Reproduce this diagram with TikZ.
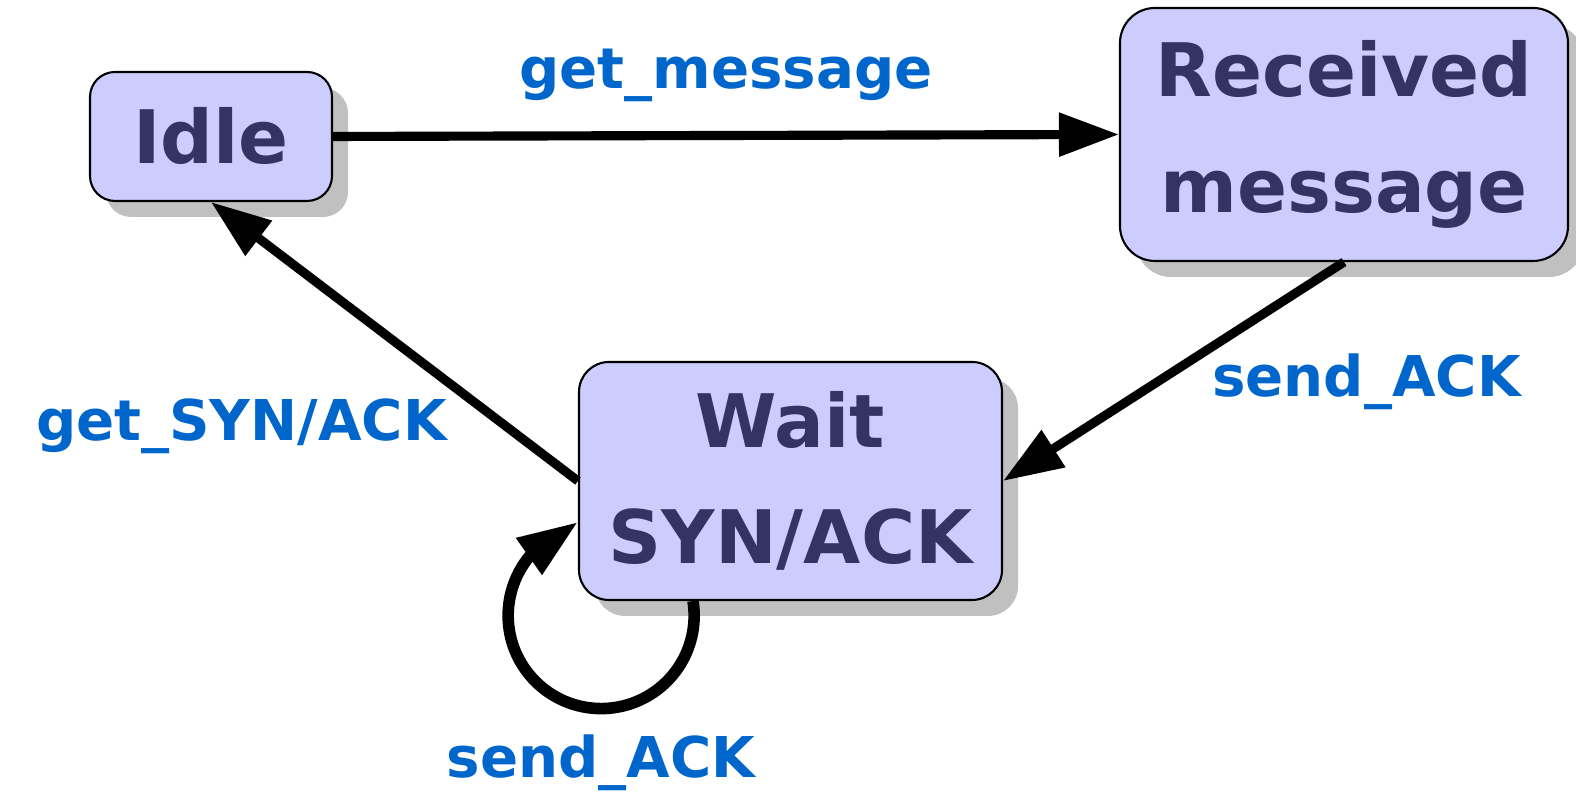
\documentclass[tikz,border=0pt]{standalone}
\usepackage{fontspec}
\setmainfont{DejaVu Sans}
\usetikzlibrary{arrows.meta,shadows}

\definecolor{statefill}{HTML}{CCCCFF}
\definecolor{statetext}{HTML}{333366}
\definecolor{labelblue}{HTML}{0066CC}
\definecolor{shadowgray}{HTML}{C0C0C0}

\tikzstyle{state} = [draw=black, line width=0.6pt, fill=statefill, rounded corners=0.3cm,
    text=statetext, font=\fontsize{21}{33}\selectfont\bfseries, align=center,
    drop shadow={shadow xshift=0.16cm, shadow yshift=-0.16cm, fill=shadowgray, opacity=1}]
\tikzstyle{link} = [line width=2.6pt, -{Triangle[length=0.6cm, width=0.42cm]}]
\tikzstyle{lbl} = [text=labelblue, font=\fontsize{16}{19}\selectfont\bfseries, inner sep=0pt]

\begin{document}
\begin{tikzpicture}
\useasboundingbox (0,0) rectangle (15.76,7.95);

% states
\node[state, minimum width=2.42cm, minimum height=1.29cm, rounded corners=0.25cm] (idle) at (2.11,6.585) {Idle};
\node[state, minimum width=4.48cm, minimum height=2.53cm, rounded corners=0.35cm] (received) at (13.44,6.605) {Received\\message};
\node[state, minimum width=4.23cm, minimum height=2.38cm] (wait) at (7.905,3.14) {Wait\\SYN/ACK};

% transitions
\draw[link] (idle.east) -- node[lbl, above=0.29cm] (getmsg) {get\_message} (received.west);
\draw[link] (received.south) -- node[lbl, pos=0.4, anchor=north west] (sendack) {send\_ACK} (wait.east);
\draw[link] (wait.west) -- node[lbl, pos=0.31, anchor=north east, xshift=-0.13cm] (getsyn) {get\_SYN/ACK} (idle.south);

% self loop on wait
\draw[link, line width=3.3pt] ([xshift=-0.975cm]wait.south) arc[start angle=9, end angle=-90, radius=0.93]
    coordinate (loopbottom) arc[start angle=-90, end angle=-220, radius=0.93]
    -- ([yshift=-0.41cm]wait.west);
\node[lbl, below=0.25cm] (resend) at (loopbottom) {send\_ACK};
\end{tikzpicture}
\end{document}
